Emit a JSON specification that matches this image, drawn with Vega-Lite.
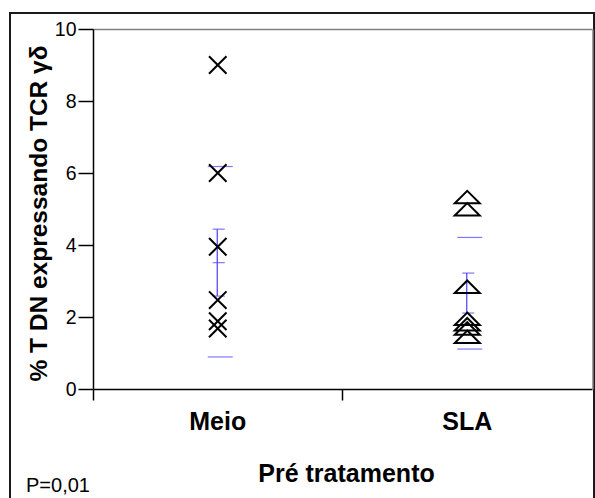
{
  "$schema": "https://vega.github.io/schema/vega-lite/v6.json",
  "width": 584,
  "height": 490,
  "autosize": {"type": "none"},
  "padding": {"left": 10, "top": 13, "right": 1, "bottom": -5},
  "background": "white",
  "config": {
    "view": {"stroke": "#1a1a1a", "strokeWidth": 2},
    "font": "Liberation Sans"
  },
  "title": {
    "text": "P=0,01",
    "orient": "bottom",
    "anchor": "start",
    "frame": "group",
    "offset": 0,
    "dx": 16,
    "dy": -11.3,
    "baseline": "alphabetic",
    "font": "Liberation Sans",
    "fontSize": 20,
    "fontWeight": "normal",
    "color": "black"
  },
  "datasets": {
    "pontos": [
      {"grupo": "Meio", "valor": 9.0},
      {"grupo": "Meio", "valor": 6.0},
      {"grupo": "Meio", "valor": 3.95},
      {"grupo": "Meio", "valor": 2.47},
      {"grupo": "Meio", "valor": 1.88},
      {"grupo": "Meio", "valor": 1.68},
      {"grupo": "SLA", "valor": 5.33},
      {"grupo": "SLA", "valor": 4.99},
      {"grupo": "SLA", "valor": 2.84},
      {"grupo": "SLA", "valor": 1.95},
      {"grupo": "SLA", "valor": 1.8},
      {"grupo": "SLA", "valor": 1.68},
      {"grupo": "SLA", "valor": 1.45}
    ],
    "erro": [
      {"grupo": "Meio", "inferior": 2.58, "superior": 4.44},
      {"grupo": "SLA", "inferior": 2.11, "superior": 3.22}
    ],
    "desvio": [
      {"grupo": "Meio", "valor": 6.18},
      {"grupo": "Meio", "valor": 0.89},
      {"grupo": "SLA", "valor": 4.21},
      {"grupo": "SLA", "valor": 1.11}
    ],
    "media_epm": [
      {"grupo": "Meio", "valor": 4.44},
      {"grupo": "Meio", "valor": 3.51},
      {"grupo": "Meio", "valor": 2.58},
      {"grupo": "SLA", "valor": 3.22},
      {"grupo": "SLA", "valor": 2.66},
      {"grupo": "SLA", "valor": 2.11}
    ]
  },
  "layer": [
    {
      "data": {"name": "erro"},
      "mark": {"type": "rule", "color": "#4a3cff", "strokeWidth": 1.2, "xOffset": -0.5},
      "encoding": {
        "x": {
          "field": "grupo", "type": "nominal",
          "scale": {"type": "band", "domain": ["Meio", "SLA"], "range": [83, 582], "paddingInner": 0, "paddingOuter": 0},
          "axis": {"orient": "top", "offset": -16, "ticks": false, "labels": false, "title": null, "grid": false, "domainColor": "#808080", "domainWidth": 1.5}
        },
        "y": {
          "field": "inferior", "type": "quantitative",
          "scale": {"type": "linear", "domain": [0, 10], "range": [376, 16], "nice": false, "zero": false},
          "axis": {"orient": "right", "offset": -1.5, "ticks": false, "labels": false, "title": null, "grid": false, "domainColor": "#808080", "domainWidth": 1.5}
        },
        "y2": {"field": "superior"}
      }
    },
    {
      "data": {"name": "desvio"},
      "mark": {"type": "tick", "color": "#4a3cff", "thickness": 1.2, "size": 25, "xOffset": 2.5},
      "encoding": {
        "x": {"field": "grupo", "type": "nominal", "axis": null},
        "y": {"field": "valor", "type": "quantitative", "axis": null}
      }
    },
    {
      "data": {"name": "media_epm"},
      "mark": {"type": "tick", "color": "#4a3cff", "thickness": 1.2, "size": 12, "xOffset": 1},
      "encoding": {
        "x": {"field": "grupo", "type": "nominal", "axis": null},
        "y": {"field": "valor", "type": "quantitative", "axis": null}
      }
    },
    {
      "data": {"name": "pontos"},
      "mark": {"type": "point", "filled": false, "strokeWidth": 2, "opacity": 1},
      "encoding": {
        "x": {
          "field": "grupo", "type": "nominal",
          "axis": {
            "orient": "bottom", "offset": -114, "bandPosition": 0,
            "tickSize": 11, "tickWidth": 1.5, "tickColor": "black",
            "domainColor": "black", "domainWidth": 1.5, "grid": false,
            "labelAngle": 0, "labelFont": "Liberation Sans", "labelFontSize": 25, "labelFontWeight": "bold", "labelColor": "black", "labelPadding": 9.5,
            "title": "Pré tratamento", "titleFont": "Liberation Sans", "titleFontSize": 25, "titleFontWeight": "bold", "titleColor": "black",
            "titleX": 336, "titleY": 92.7, "titleAlign": "center", "titleBaseline": "alphabetic"
          }
        },
        "y": {
          "field": "valor", "type": "quantitative",
          "axis": {
            "orient": "left", "offset": -83, "values": [0, 2, 4, 6, 8, 10],
            "tickSize": 15, "tickWidth": 1.5, "tickColor": "black",
            "domainColor": "black", "domainWidth": 1.5, "grid": false,
            "labelFont": "Liberation Sans", "labelFontSize": 19.5, "labelFontWeight": "normal", "labelColor": "black", "labelPadding": 2,
            "title": "% T DN expressando TCR γδ", "titleFont": "Liberation Sans", "titleFontSize": 24.5, "titleFontWeight": "bold", "titleColor": "black",
            "titleAngle": -90, "titleX": -54, "titleY": 200, "titleAlign": "center", "titleBaseline": "middle"
          }
        },
        "shape": {
          "field": "grupo", "type": "nominal",
          "scale": {"domain": ["Meio", "SLA"], "range": ["M-1,-1L1,1M-1,1L1,-1", "M0,-0.5L1,0.5L-1,0.5Z"]},
          "legend": null
        },
        "size": {
          "field": "grupo", "type": "ordinal",
          "scale": {"domain": ["Meio", "SLA"], "range": [306, 625]},
          "legend": null
        },
        "color": {"value": "black"}
      }
    }
  ]
}
